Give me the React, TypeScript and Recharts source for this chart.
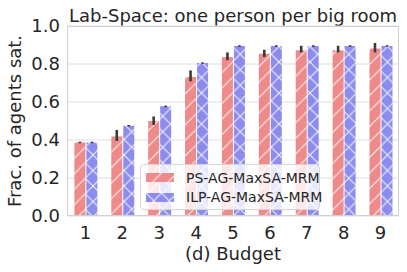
import React from 'react';
import { ComposedChart, Bar, XAxis, YAxis, CartesianGrid, ErrorBar, Legend, Label } from 'recharts';

const budgets = ['1', '2', '3', '4', '5', '6', '7', '8', '9'];
const psValues = [0.387, 0.419, 0.5, 0.732, 0.837, 0.854, 0.872, 0.872, 0.882];
const ilpValues = [0.387, 0.475, 0.577, 0.805, 0.895, 0.895, 0.895, 0.895, 0.895];
const psErr: [number, number][] = [
  [0.004, 0.004], [0.024, 0.034], [0.021, 0.024], [0.023, 0.034], [0.017, 0.024],
  [0.017, 0.021], [0.011, 0.024], [0.011, 0.024], [0.021, 0.029],
];
const ilpErr: [number, number][] = [
  [0.004, 0.004], [0.004, 0.004], [0.004, 0.004], [0.004, 0.004], [0.004, 0.004],
  [0.004, 0.004], [0.004, 0.004], [0.004, 0.004], [0.004, 0.004],
];
const yTicks = [0, 0.2, 0.4, 0.6, 0.8, 1.0];
const seriesNames = ['PS-AG-MaxSA-MRM', 'ILP-AG-MaxSA-MRM'];
const title = 'Lab-Space: one person per big room';
const xLabel = '(d) Budget';
const yLabel = 'Frac. of agents sat.';

const data = budgets.map((b, i) => ({
  budget: b,
  ps: psValues[i],
  ilp: ilpValues[i],
  psErr: psErr[i],
  ilpErr: ilpErr[i],
}));

const RED = '#ee8a8a';
const BLUE = '#8c8cee';
const TEXT = '#262626';
const FONT = 'DejaVu Sans';
const P = 15.5;

const Patterns = () => (
  <svg width={0} height={0} style={{ position: 'absolute' }}>
    <defs>
      <pattern id="hatchRed" patternUnits="userSpaceOnUse" width={P} height={P}>
        <rect width={P} height={P} fill={RED} />
        <path d={`M0,${P} L${P},0 M-2,2 L2,-2 M${P - 2},${P + 2} L${P + 2},${P - 2}`} stroke="#ffffff" strokeOpacity={0.9} strokeWidth={1} />
      </pattern>
      <pattern id="hatchBlue" patternUnits="userSpaceOnUse" width={P} height={P}>
        <rect width={P} height={P} fill={BLUE} />
        <path d={`M0,${P} L${P},0 M-2,2 L2,-2 M${P - 2},${P + 2} L${P + 2},${P - 2} M0,0 L${P},${P} M-2,${P - 2} L2,${P + 2} M${P - 2},-2 L${P + 2},2`} stroke="#ffffff" strokeOpacity={0.9} strokeWidth={1} />
      </pattern>
    </defs>
  </svg>
);

const renderLegend = () => (
  <div
    style={{
      width: 180,
      height: 46,
      background: 'rgba(255,255,255,0.8)',
      border: '1px solid #d6d6d6',
      borderRadius: 4,
      fontFamily: FONT,
      fontSize: 14,
      color: TEXT,
      boxSizing: 'border-box',
      paddingTop: 3,
      whiteSpace: 'nowrap',
    }}
  >
    {seriesNames.map((n, i) => (
      <div key={n} style={{ display: 'flex', alignItems: 'center', height: 19.5, marginLeft: 5 }}>
        <svg width={28} height={9} style={{ marginRight: 12, flexShrink: 0 }}>
          <rect width={28} height={9} fill={i === 0 ? 'url(#hatchRed)' : 'url(#hatchBlue)'} />
        </svg>
        <span>{n}</span>
      </div>
    ))}
  </div>
);

const YLabel = () => {
  const cy = 121;
  return (
    <text x={20.5} y={cy} transform={`rotate(-90, 20.5, ${cy})`} textAnchor="middle" fill={TEXT} fontSize={18} fontFamily={FONT}>
      {yLabel}
    </text>
  );
};

export default function App() {
  return (
    <div style={{ position: 'absolute', left: 0, top: 0, width: 407, height: 272, background: '#fff' }}>
      <Patterns />
      <div
        style={{
          position: 'absolute',
          left: 67,
          width: 332,
          top: 4.5,
          textAlign: 'center',
          fontFamily: FONT,
          fontSize: 18,
          color: TEXT,
          whiteSpace: 'nowrap',
        }}
      >
        {title}
      </div>
      <ComposedChart
        width={407}
        height={272}
        data={data}
        margin={{ top: 26, right: 8, bottom: 0, left: 0 }}
        barCategoryGap="20%"
        barGap={1}
      >
        <CartesianGrid horizontal vertical={false} stroke="#dedede" strokeWidth={1} />
        <XAxis
          dataKey="budget"
          height={56}
          axisLine={false}
          tickLine={false}
          tickSize={6}
          tickMargin={4}
          tick={{ fill: TEXT, fontSize: 18, fontFamily: FONT }}
        >
          <Label value={xLabel} position="insideBottom" offset={12.5} fill={TEXT} fontSize={18} fontFamily={FONT} />
        </XAxis>
        <YAxis
          width={67}
          domain={[0, 1]}
          ticks={yTicks}
          tickFormatter={(v: number) => v.toFixed(1)}
          axisLine={false}
          tickLine={false}
          tickSize={5}
          tickMargin={2}
          tick={{ fill: TEXT, fontSize: 18, fontFamily: FONT }}
        >
          <Label content={<YLabel />} />
        </YAxis>
        <Bar dataKey="ps" name={seriesNames[0]} fill="url(#hatchRed)" isAnimationActive={false}>
          <ErrorBar dataKey="psErr" width={0} stroke="#3b3b3b" strokeWidth={2.6} direction="y" />
        </Bar>
        <Bar dataKey="ilp" name={seriesNames[1]} fill="url(#hatchBlue)" isAnimationActive={false}>
          <ErrorBar dataKey="ilpErr" width={0} stroke="#3b3b3b" strokeWidth={2.6} direction="y" />
        </Bar>
        <Legend
          layout="vertical"
          align="center"
          verticalAlign="middle"
          content={renderLegend}
          wrapperStyle={{ left: 140, top: 164, width: 180 }}
        />
      </ComposedChart>
      <div
        style={{
          position: 'absolute',
          left: 67,
          top: 26,
          width: 332,
          height: 190,
          border: '1px solid #d0d0d0',
          boxSizing: 'border-box',
          pointerEvents: 'none',
        }}
      />
    </div>
  );
}
